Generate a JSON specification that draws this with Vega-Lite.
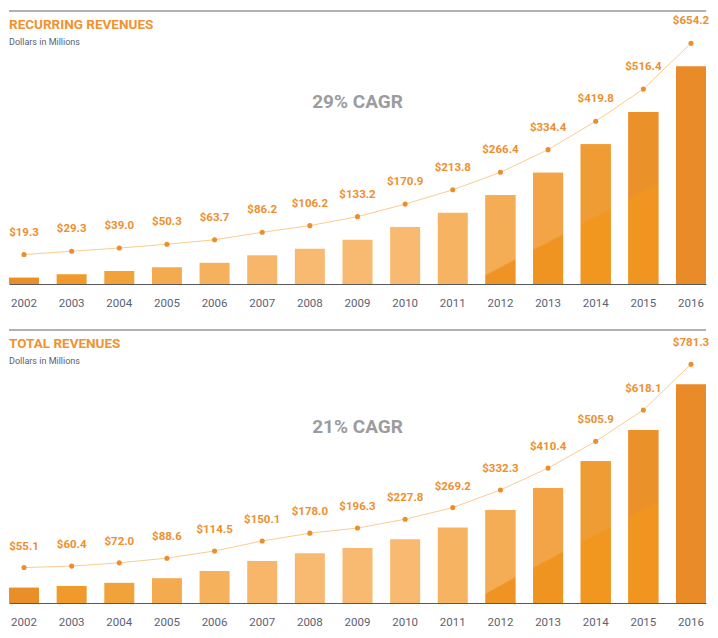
{
  "$schema": "https://vega.github.io/schema/vega-lite/v6.json",
  "padding": {"left": 8, "top": 10, "right": 12, "bottom": 5},
  "config": {
    "view": {"stroke": null},
    "font": "Roboto",
    "concat": {"spacing": 20}
  },
  "datasets": {
    "recurring": [
      {"year": "2002", "value": 19.3}, {"year": "2003", "value": 29.3}, {"year": "2004", "value": 39.0},
      {"year": "2005", "value": 50.3}, {"year": "2006", "value": 63.7}, {"year": "2007", "value": 86.2},
      {"year": "2008", "value": 106.2}, {"year": "2009", "value": 133.2}, {"year": "2010", "value": 170.9},
      {"year": "2011", "value": 213.8}, {"year": "2012", "value": 266.4}, {"year": "2013", "value": 334.4},
      {"year": "2014", "value": 419.8}, {"year": "2015", "value": 516.4}, {"year": "2016", "value": 654.2}
    ],
    "total": [
      {"year": "2002", "value": 55.1}, {"year": "2003", "value": 60.4}, {"year": "2004", "value": 72.0},
      {"year": "2005", "value": 88.6}, {"year": "2006", "value": 114.5}, {"year": "2007", "value": 150.1},
      {"year": "2008", "value": 178.0}, {"year": "2009", "value": 196.3}, {"year": "2010", "value": 227.8},
      {"year": "2011", "value": 269.2}, {"year": "2012", "value": 332.3}, {"year": "2013", "value": 410.4},
      {"year": "2014", "value": 505.9}, {"year": "2015", "value": 618.1}, {"year": "2016", "value": 781.3}
    ]
  },
  "resolve": {"scale": {"x": "independent", "y": "independent", "color": "independent"}},
  "vconcat": [
    {
      "data": {"name": "recurring"},
      "width": 697,
      "height": 273,
      "title": {
        "text": "RECURRING REVENUES", "subtitle": "Dollars in Millions",
        "anchor": "start", "frame": "group", "orient": "top", "offset": -36,
        "font": "Roboto", "fontSize": 13.5, "fontWeight": "bold", "color": "#F0922E",
        "subtitleFont": "Roboto", "subtitleFontSize": 9, "subtitleColor": "#5C6070", "subtitlePadding": 6
      },
      "layer": [
        {
          "mark": {"type": "bar"},
          "encoding": {
            "x": {"field": "year", "type": "ordinal", "scale": {"paddingInner": 0.37, "paddingOuter": 0},
              "axis": {"title": null, "labelAngle": 0, "ticks": false, "labelPadding": 13, "domainColor": "#58595B", "domainWidth": 1,
                "labelFont": "Roboto", "labelFontSize": 11.5, "labelColor": "#5B6272", "grid": false}},
            "y": {"field": "value", "type": "quantitative", "scale": {"domain": [0, 820], "nice": false}, "axis": null},
            "color": {"field": "year", "type": "nominal", "legend": null,
              "scale": {"domain": ["2002","2003","2004","2005","2006","2007","2008","2009","2010","2011","2012","2013","2014","2015","2016"],
                "range": ["#EA8F27","#EF9A2B","#F2A23B","#F4AB50","#F6B15D","#F7B669","#F8BA70","#F8BA71","#F8BA70","#F6B462","#F4AC55","#F2A446","#F09C34","#EC932A","#E98B28"]}}
          }
        },
        {
          "transform": [{"filter": "datum.year === '2012'"}],
          "mark": {"type": "bar", "fill": {"gradient": "linear", "x1": 0.4982, "y1": 0.802, "x2": 0.5018, "y2": 0.822,
            "stops": [{"offset": 0, "color": "#F4AC55"}, {"offset": 1, "color": "#EF9324"}]}},
          "encoding": {"x": {"field": "year", "type": "ordinal"}, "y": {"field": "value", "type": "quantitative"}}
        },
        {
          "transform": [{"filter": "datum.year === '2013'"}],
          "mark": {"type": "bar", "fill": {"gradient": "linear", "x1": 0.4986, "y1": 0.6145, "x2": 0.5014, "y2": 0.6345,
            "stops": [{"offset": 0, "color": "#F2A446"}, {"offset": 1, "color": "#F09421"}]}},
          "encoding": {"x": {"field": "year", "type": "ordinal"}, "y": {"field": "value", "type": "quantitative"}}
        },
        {
          "transform": [{"filter": "datum.year === '2014'"}],
          "mark": {"type": "bar", "fill": {"gradient": "linear", "x1": 0.4989, "y1": 0.5085, "x2": 0.5011, "y2": 0.5285,
            "stops": [{"offset": 0, "color": "#F09C34"}, {"offset": 1, "color": "#F1961F"}]}},
          "encoding": {"x": {"field": "year", "type": "ordinal"}, "y": {"field": "value", "type": "quantitative"}}
        },
        {
          "transform": [{"filter": "datum.year === '2015'"}],
          "mark": {"type": "bar", "fill": {"gradient": "linear", "x1": 0.4991, "y1": 0.4495, "x2": 0.5009, "y2": 0.4695,
            "stops": [{"offset": 0, "color": "#EB9129"}, {"offset": 1, "color": "#F0951F"}]}},
          "encoding": {"x": {"field": "year", "type": "ordinal"}, "y": {"field": "value", "type": "quantitative"}}
        },
        {
          "mark": {"type": "line", "color": "#F9CD90", "strokeWidth": 1, "yOffset": -23},
          "encoding": {"x": {"field": "year", "type": "ordinal"}, "y": {"field": "value", "type": "quantitative"}}
        },
        {
          "mark": {"type": "point", "filled": true, "opacity": 1, "size": 26, "color": "#EC8E2C", "yOffset": -23},
          "encoding": {"x": {"field": "year", "type": "ordinal"}, "y": {"field": "value", "type": "quantitative"}}
        },
        {
          "mark": {"type": "text", "font": "Roboto", "fontSize": 11.5, "fontWeight": "bold", "color": "#EE8F2E", "baseline": "middle", "yOffset": -23, "dy": -22},
          "encoding": {"x": {"field": "year", "type": "ordinal"}, "y": {"field": "value", "type": "quantitative"},
            "text": {"field": "value", "type": "quantitative", "format": "$.1f"}}
        },
        {
          "data": {"values": [{}]},
          "mark": {"type": "rule", "color": "#646464", "strokeWidth": 1},
          "encoding": {"y": {"datum": 820}}
        },
        {
          "data": {"values": [{}]},
          "mark": {"type": "text", "text": "29% CAGR", "font": "Roboto", "fontSize": 19, "fontWeight": "bold", "color": "#9C9CA0", "baseline": "middle"},
          "encoding": {"x": {"datum": "2009"}, "y": {"datum": 546}}
        }
      ]
    },
    {
      "data": {"name": "total"},
      "width": 697,
      "height": 273,
      "title": {
        "text": "TOTAL REVENUES", "subtitle": "Dollars in Millions",
        "anchor": "start", "frame": "group", "orient": "top", "offset": -36,
        "font": "Roboto", "fontSize": 13.5, "fontWeight": "bold", "color": "#F0922E",
        "subtitleFont": "Roboto", "subtitleFontSize": 9, "subtitleColor": "#5C6070", "subtitlePadding": 6
      },
      "layer": [
        {
          "mark": {"type": "bar"},
          "encoding": {
            "x": {"field": "year", "type": "ordinal", "scale": {"paddingInner": 0.37, "paddingOuter": 0},
              "axis": {"title": null, "labelAngle": 0, "ticks": false, "labelPadding": 13, "domainColor": "#58595B", "domainWidth": 1,
                "labelFont": "Roboto", "labelFontSize": 11.5, "labelColor": "#5B6272", "grid": false}},
            "y": {"field": "value", "type": "quantitative", "scale": {"domain": [0, 975], "nice": false}, "axis": null},
            "color": {"field": "year", "type": "nominal", "legend": null,
              "scale": {"domain": ["2002","2003","2004","2005","2006","2007","2008","2009","2010","2011","2012","2013","2014","2015","2016"],
                "range": ["#EA8F27","#EF9A2B","#F2A23B","#F4AB50","#F6B15D","#F7B669","#F8BA70","#F8BA71","#F8BA70","#F6B462","#F4AC55","#F2A446","#F09C34","#EC932A","#E98B28"]}}
          }
        },
        {
          "transform": [{"filter": "datum.year === '2012'"}],
          "mark": {"type": "bar", "fill": {"gradient": "linear", "x1": 0.4982, "y1": 0.802, "x2": 0.5018, "y2": 0.822,
            "stops": [{"offset": 0, "color": "#F4AC55"}, {"offset": 1, "color": "#EF9324"}]}},
          "encoding": {"x": {"field": "year", "type": "ordinal"}, "y": {"field": "value", "type": "quantitative"}}
        },
        {
          "transform": [{"filter": "datum.year === '2013'"}],
          "mark": {"type": "bar", "fill": {"gradient": "linear", "x1": 0.4986, "y1": 0.6145, "x2": 0.5014, "y2": 0.6345,
            "stops": [{"offset": 0, "color": "#F2A446"}, {"offset": 1, "color": "#F09421"}]}},
          "encoding": {"x": {"field": "year", "type": "ordinal"}, "y": {"field": "value", "type": "quantitative"}}
        },
        {
          "transform": [{"filter": "datum.year === '2014'"}],
          "mark": {"type": "bar", "fill": {"gradient": "linear", "x1": 0.4989, "y1": 0.5085, "x2": 0.5011, "y2": 0.5285,
            "stops": [{"offset": 0, "color": "#F09C34"}, {"offset": 1, "color": "#F1961F"}]}},
          "encoding": {"x": {"field": "year", "type": "ordinal"}, "y": {"field": "value", "type": "quantitative"}}
        },
        {
          "transform": [{"filter": "datum.year === '2015'"}],
          "mark": {"type": "bar", "fill": {"gradient": "linear", "x1": 0.4991, "y1": 0.4495, "x2": 0.5009, "y2": 0.4695,
            "stops": [{"offset": 0, "color": "#EB9129"}, {"offset": 1, "color": "#F0951F"}]}},
          "encoding": {"x": {"field": "year", "type": "ordinal"}, "y": {"field": "value", "type": "quantitative"}}
        },
        {
          "mark": {"type": "line", "color": "#F9CD90", "strokeWidth": 1, "yOffset": -20},
          "encoding": {"x": {"field": "year", "type": "ordinal"}, "y": {"field": "value", "type": "quantitative"}}
        },
        {
          "mark": {"type": "point", "filled": true, "opacity": 1, "size": 26, "color": "#EC8E2C", "yOffset": -20},
          "encoding": {"x": {"field": "year", "type": "ordinal"}, "y": {"field": "value", "type": "quantitative"}}
        },
        {
          "mark": {"type": "text", "font": "Roboto", "fontSize": 11.5, "fontWeight": "bold", "color": "#EE8F2E", "baseline": "middle", "yOffset": -20, "dy": -21},
          "encoding": {"x": {"field": "year", "type": "ordinal"}, "y": {"field": "value", "type": "quantitative"},
            "text": {"field": "value", "type": "quantitative", "format": "$.1f"}}
        },
        {
          "data": {"values": [{}]},
          "mark": {"type": "rule", "color": "#646464", "strokeWidth": 1},
          "encoding": {"y": {"datum": 975}}
        },
        {
          "data": {"values": [{}]},
          "mark": {"type": "text", "text": "21% CAGR", "font": "Roboto", "fontSize": 19, "fontWeight": "bold", "color": "#9C9CA0", "baseline": "middle"},
          "encoding": {"x": {"datum": "2009"}, "y": {"datum": 629}}
        }
      ]
    }
  ]
}
